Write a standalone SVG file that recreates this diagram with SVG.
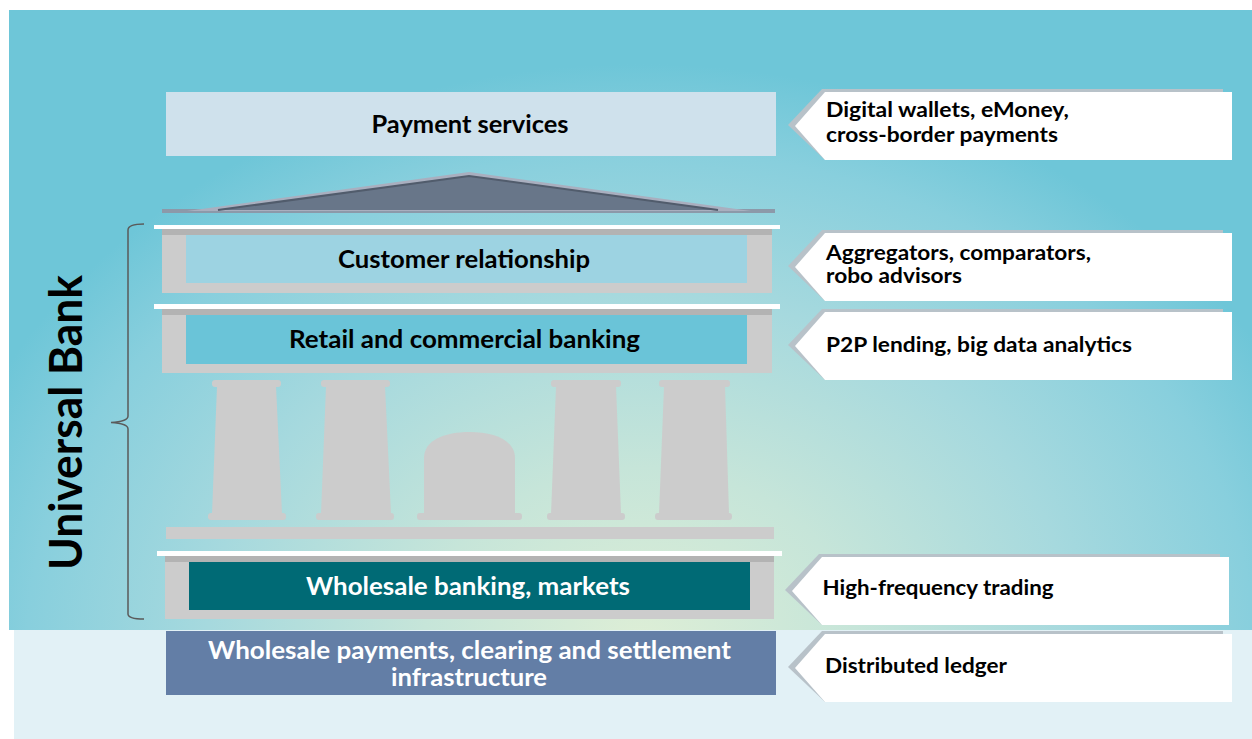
<svg xmlns="http://www.w3.org/2000/svg" width="1252" height="739" viewBox="0 0 1252 739">
<defs>
<radialGradient id="bg" gradientUnits="userSpaceOnUse" cx="640" cy="640" r="720" gradientTransform="translate(640 640) scale(1 0.8) translate(-640 -640)">
<stop offset="0" stop-color="#DDEED6"/>
<stop offset="0.3" stop-color="#C6E5D9"/>
<stop offset="0.6" stop-color="#A6D9DE"/>
<stop offset="0.85" stop-color="#88CFDD"/>
<stop offset="1" stop-color="#6EC6D8"/>
</radialGradient>
<g id="callout">
<polygon points="-3,-3 398,-3 398,68 0,68 -37,33" fill="#B8C2C9"/>
<polygon points="0,0 407,0 407,68 0,68 -30,34" fill="#FFFFFF"/>
</g>
<style>
.t{font-family:Lato,"Liberation Sans",sans-serif;font-weight:bold;fill:#000}
.m{font-size:24px;text-anchor:middle}
.w{fill:#FFFFFF}
.c{font-size:20px}
.gray{fill:#CCCCCC}
.strip{fill:#B3B3B3}
.white{fill:#FFFFFF}
</style>
</defs>

<rect x="0" y="0" width="1252" height="739" fill="#FFFFFF"/>
<rect x="9" y="10" width="1243" height="620" fill="url(#bg)"/>
<rect x="14" y="630" width="1238" height="109" fill="#E2F1F6"/>

<g id="universal-bank-label">
<text class="t" font-size="45" text-anchor="middle" textLength="295" lengthAdjust="spacingAndGlyphs" transform="translate(82 422.5) rotate(-90)">Universal Bank</text>
</g>

<g id="connectors">
<path d="M144,224 C136,224 128,225 128,230 L128,416 C128,420 120,422 111,422.5 C120,423 128,425 128,429 L128,614 C128,618 136,619 144,619" fill="none" stroke="#5A5A5A" stroke-width="1.5"/>
</g>

<g id="payment-services">
<rect x="166" y="92" width="610" height="64" fill="#CFE1EC"/>
<text class="t m" x="470" y="133" textLength="197" lengthAdjust="spacingAndGlyphs">Payment services</text>
</g>

<g id="roof">
<rect x="162" y="209" width="613" height="4" fill="#8C99A9"/>
<polygon points="187,211 469,172 751,211" fill="#A9AFBF"/>
<polygon points="218,210 469,176 718,210" fill="#687689"/>
<polyline points="218,210 469,176 718,210" fill="none" stroke="#515C6C" stroke-width="2"/>
</g>

<g id="customer-relationship">
<rect class="white" x="154" y="225" width="626" height="4"/>
<rect class="gray" x="162" y="229" width="610" height="64"/>
<rect class="strip" x="162" y="229" width="610" height="6"/>
<rect x="186" y="235" width="561" height="48" fill="#9DD3E2"/>
<text class="t m" x="464" y="268" textLength="252" lengthAdjust="spacingAndGlyphs">Customer relationship</text>
</g>

<g id="retail-commercial-banking">
<rect class="white" x="154" y="304" width="626" height="5"/>
<rect class="gray" x="162" y="309" width="610" height="64"/>
<rect class="strip" x="162" y="309" width="610" height="6"/>
<rect x="186" y="315" width="561" height="49" fill="#6AC4D8"/>
<text class="t m" x="464.5" y="348" textLength="351" lengthAdjust="spacingAndGlyphs">Retail and commercial banking</text>
</g>

<g id="columns" class="gray">
<rect x="212" y="380" width="69" height="7" rx="3"/>
<polygon points="217,386 276,386 282,514 212,514"/>
<rect x="208" y="513" width="78" height="7" rx="3"/>

<rect x="321" y="380" width="69" height="7" rx="3"/>
<polygon points="326,386 385,386 391,514 321,514"/>
<rect x="316" y="513" width="78" height="7" rx="3"/>

<path d="M424,514 L424,458 C424,440 445,432 469.5,432 C494,432 515,440 515,458 L515,514 Z"/>
<rect x="417" y="513" width="105" height="7" rx="3"/>

<rect x="551" y="380" width="70" height="7" rx="3"/>
<polygon points="556,386 616,386 621,514 551,514"/>
<rect x="547" y="513" width="78" height="7" rx="3"/>

<rect x="659" y="380" width="71" height="7" rx="3"/>
<polygon points="664,386 725,386 729,514 659,514"/>
<rect x="655" y="513" width="77" height="7" rx="3"/>

<rect x="166" y="527" width="608" height="12"/>
</g>

<g id="wholesale-banking-markets">
<rect class="white" x="157" y="551" width="625" height="5"/>
<rect class="gray" x="165" y="556" width="609" height="63"/>
<rect class="strip" x="165" y="556" width="609" height="6"/>
<rect x="189" y="562" width="561" height="48" fill="#006A75"/>
<text class="t m w" x="468" y="595" textLength="324" lengthAdjust="spacingAndGlyphs">Wholesale banking, markets</text>
</g>

<g id="wholesale-payments-infrastructure">
<rect x="166" y="631" width="610" height="64" fill="#637EA6"/>
<text class="t m w" x="469.5" y="659" textLength="523" lengthAdjust="spacingAndGlyphs">Wholesale payments, clearing and settlement</text>
<text class="t m w" x="469" y="686" textLength="156" lengthAdjust="spacingAndGlyphs">infrastructure</text>
</g>

<g id="callout-digital-wallets">
<use href="#callout" transform="translate(825 92)"/>
<text class="t c" x="826" y="117" textLength="243" lengthAdjust="spacingAndGlyphs">Digital wallets, eMoney,</text>
<text class="t c" x="826" y="142" textLength="232" lengthAdjust="spacingAndGlyphs">cross-border payments</text>
</g>

<g id="callout-aggregators">
<use href="#callout" transform="translate(825 233)"/>
<text class="t c" x="826" y="260" textLength="265" lengthAdjust="spacingAndGlyphs">Aggregators, comparators,</text>
<text class="t c" x="826" y="283" textLength="136" lengthAdjust="spacingAndGlyphs">robo advisors</text>
</g>

<g id="callout-p2p">
<use href="#callout" transform="translate(825 312)"/>
<text class="t c" x="826" y="352" textLength="306" lengthAdjust="spacingAndGlyphs">P2P lending, big data analytics</text>
</g>

<g id="callout-hft">
<use href="#callout" transform="translate(822 557)"/>
<text class="t c" x="822.5" y="595" textLength="231" lengthAdjust="spacingAndGlyphs">High-frequency trading</text>
</g>

<g id="callout-distributed-ledger">
<use href="#callout" transform="translate(825 634)"/>
<text class="t c" x="825" y="673" textLength="182" lengthAdjust="spacingAndGlyphs">Distributed ledger</text>
</g>
</svg>
